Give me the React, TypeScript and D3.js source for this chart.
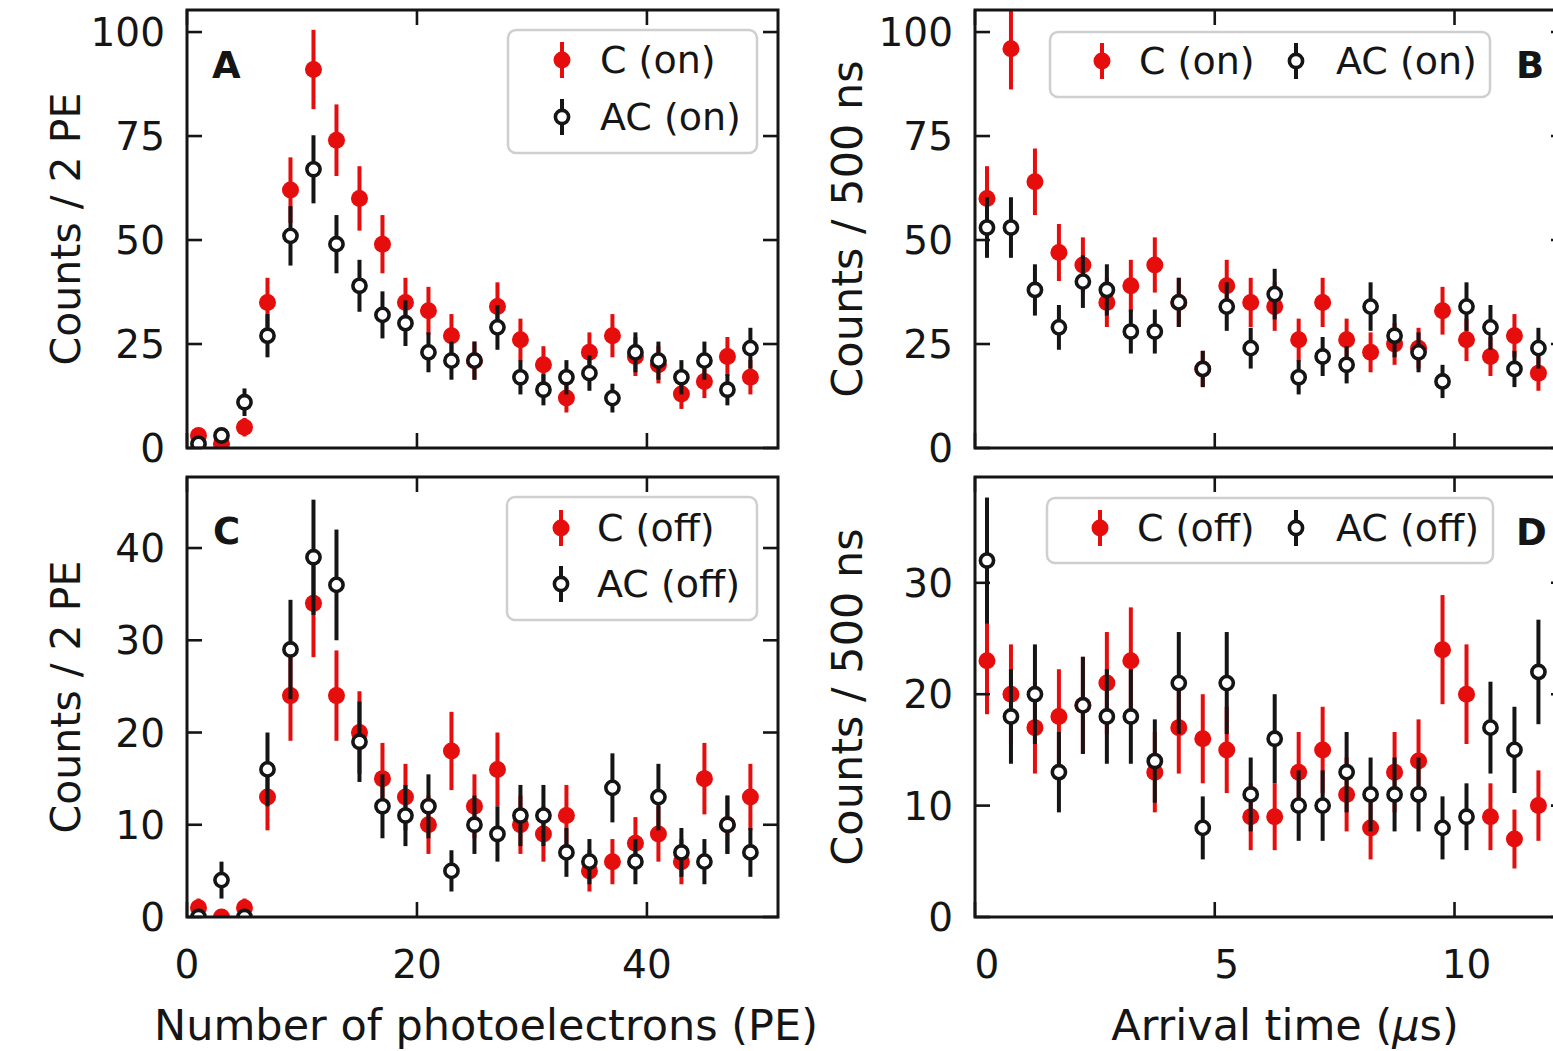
import React from "react";
import * as d3 from "d3";

// ---------- data ----------
const peBins = [1, 3, 5, 7, 9, 11, 13, 15, 17, 19, 21, 23, 25, 27, 29, 31, 33, 35, 37, 39, 41, 43, 45, 47, 49];
const peCOn = [3, 1, 5, 35, 62, 91, 74, 60, 49, 35, 33, 27, 21, 34, 26, 20, 12, 23, 27, 22, 20, 13, 16, 22, 17];
const peACOn = [1, 3, 11, 27, 51, 67, 49, 39, 32, 30, 23, 21, 21, 29, 17, 14, 17, 18, 12, 23, 21, 17, 21, 14, 24];
const peCOff = [1, 0, 1, 13, 24, 34, 24, 20, 15, 13, 10, 18, 12, 16, 10, 9, 11, 5, 6, 8, 9, 6, 15, 10, 13];
const peACOff = [0, 4, 0, 16, 29, 39, 36, 19, 12, 11, 12, 5, 10, 9, 11, 11, 7, 6, 14, 6, 13, 7, 6, 10, 7];

const timeBins = [0.25, 0.75, 1.25, 1.75, 2.25, 2.75, 3.25, 3.75, 4.25, 4.75, 5.25, 5.75, 6.25, 6.75, 7.25, 7.75, 8.25, 8.75, 9.25, 9.75, 10.25, 10.75, 11.25, 11.75];
const tCOn = [60, 96, 64, 47, 44, 35, 39, 44, 35, 19, 39, 35, 34, 26, 35, 26, 23, 25, 24, 33, 26, 22, 27, 18];
const tACOn = [53, 53, 38, 29, 40, 38, 28, 28, 35, 19, 34, 24, 37, 17, 22, 20, 34, 27, 23, 16, 34, 29, 19, 24];
const tCOff = [23, 20, 17, 18, 19, 21, 23, 13, 17, 16, 15, 9, 9, 13, 15, 11, 8, 13, 14, 24, 20, 9, 7, 10];
const tACOff = [32, 18, 20, 13, 19, 18, 18, 14, 21, 8, 21, 11, 16, 10, 10, 13, 11, 11, 11, 8, 9, 17, 15, 22];

const peTicks = [0, 20, 40];
const timeTicks = [0, 5, 10];
const countTicksOn = [0, 25, 50, 75, 100];
const countTicksPeOff = [0, 10, 20, 30, 40];
const countTicksTimeOff = [0, 10, 20, 30];

const peMax = 51.4;
const timeMax = 12.325;

// ---------- style ----------
const FONT = "'DejaVu Sans', Verdana, sans-serif";
const RED = "#e60d0d";
const INK = "#151515";

type LegendItem = { label: string; filled: boolean; hx: number; hy: number; tx: number };
type LegendCfg = { x: number; y: number; w: number; h: number; items: LegendItem[] };

type PanelProps = {
  id: string;
  left: number; top: number; width: number; height: number;
  xMax: number; yMax: number;
  xTicks: number[]; yTicks: number[];
  xs: number[]; red: number[]; black: number[];
  showXLabels: boolean; xLabelDx: number;
  ylabel: string; ylabelX: number; ylabelSize: number;
  letter: string; letterX: number; letterY: number;
  legend: LegendCfg;
};

function Marker({ cx, cy, filled }: { cx: number; cy: number; filled: boolean }) {
  return filled ? (
    <circle cx={cx} cy={cy} r={8.5} fill={RED} />
  ) : (
    <circle cx={cx} cy={cy} r={6.6} fill="#fff" stroke={INK} strokeWidth={3.6} />
  );
}

function Series({ xs, ys, x, y, filled }: any) {
  const col = filled ? RED : INK;
  return (
    <g>
      {xs.map((v: number, i: number) => {
        const e = Math.sqrt(ys[i]);
        return (
          <line key={"e" + i} x1={x(v)} x2={x(v)} y1={y(ys[i] - e)} y2={y(ys[i] + e)} stroke={col} strokeWidth={4} />
        );
      })}
      {xs.map((v: number, i: number) => (
        <Marker key={"m" + i} cx={x(v)} cy={y(ys[i])} filled={filled} />
      ))}
    </g>
  );
}

function Panel(p: PanelProps) {
  const x = d3.scaleLinear().domain([0, p.xMax]).range([p.left, p.left + p.width]);
  const y = d3.scaleLinear().domain([0, p.yMax]).range([p.top + p.height, p.top]);
  const bottom = p.top + p.height;
  const right = p.left + p.width;
  const TL = 15;
  const tw = 2.6;
  return (
    <g>
      <defs>
        <clipPath id={"clip-" + p.id}>
          <rect x={p.left} y={p.top} width={p.width} height={p.height} />
        </clipPath>
      </defs>
      <g clipPath={`url(#clip-${p.id})`}>
        <Series xs={p.xs} ys={p.red} x={x} y={y} filled={true} />
        <Series xs={p.xs} ys={p.black} x={x} y={y} filled={false} />
      </g>
      {p.xTicks.map((t) => (
        <g key={"xt" + t}>
          <line x1={x(t)} x2={x(t)} y1={bottom} y2={bottom - TL} stroke={INK} strokeWidth={tw} />
          <line x1={x(t)} x2={x(t)} y1={p.top} y2={p.top + TL} stroke={INK} strokeWidth={tw} />
          {p.showXLabels && (
            <text x={x(t) + p.xLabelDx} y={978} textAnchor="middle" fontSize={39} fill={INK} fontFamily={FONT}>
              {t}
            </text>
          )}
        </g>
      ))}
      {p.yTicks.map((t) => (
        <g key={"yt" + t}>
          <line x1={p.left} x2={p.left + TL} y1={y(t)} y2={y(t)} stroke={INK} strokeWidth={tw} />
          <line x1={right} x2={right - TL} y1={y(t)} y2={y(t)} stroke={INK} strokeWidth={tw} />
          <text x={p.left - 22} y={y(t)} dy="0.36em" textAnchor="end" fontSize={39} fill={INK} fontFamily={FONT}>
            {t}
          </text>
        </g>
      ))}
      <rect x={p.left} y={p.top} width={p.width} height={p.height} fill="none" stroke={INK} strokeWidth={3} />
      <text
        transform={`translate(${p.ylabelX},${p.top + p.height / 2}) rotate(-90)`}
        textAnchor="middle"
        fontSize={p.ylabelSize}
        fill={INK}
        fontFamily={FONT}
      >
        {p.ylabel}
      </text>
      <rect
        x={p.legend.x}
        y={p.legend.y}
        width={p.legend.w}
        height={p.legend.h}
        rx={8}
        fill="#fff"
        fillOpacity={0.85}
        stroke="#cfcfcf"
        strokeWidth={2.5}
      />
      {p.legend.items.map((it, i) => (
        <g key={"lg" + i}>
          <line
            x1={it.hx}
            x2={it.hx}
            y1={it.hy - 18}
            y2={it.hy + 18}
            stroke={it.filled ? RED : INK}
            strokeWidth={4}
          />
          <Marker cx={it.hx} cy={it.hy} filled={it.filled} />
          <text x={it.tx} y={it.hy + 13} fontSize={38} fill={INK} fontFamily={FONT}>
            {it.label}
          </text>
        </g>
      ))}
      <text x={p.letterX} y={p.letterY} fontSize={37} fontWeight="bold" fill={INK} fontFamily={FONT}>
        {p.letter}
      </text>
    </g>
  );
}

export default function App() {
  const W = 1553;
  const H = 1051;
  const lx = 187;
  const rx = 975;
  const pw = 591;
  const topY = 10;
  const topH = 438;
  const botY = 477;
  const botH = 440;
  return (
    <svg
      width={W}
      height={H}
      viewBox={`0 0 ${W} ${H}`}
      style={{ position: "absolute", left: 0, top: 0, background: "#fff" }}
    >
      <rect x={0} y={0} width={W} height={H} fill="#fff" />
      <Panel
        id="A" left={lx} top={topY} width={pw} height={topH}
        xMax={peMax} yMax={105.3} xTicks={peTicks} yTicks={countTicksOn}
        xs={peBins} red={peCOn} black={peACOn}
        showXLabels={false} xLabelDx={0}
        ylabel="Counts / 2 PE" ylabelX={80} ylabelSize={41}
        letter="A" letterX={212} letterY={78}
        legend={{
          x: 508, y: 30, w: 249, h: 123,
          items: [
            { label: "C (on)", filled: true, hx: 562, hy: 60, tx: 600 },
            { label: "AC (on)", filled: false, hx: 562, hy: 117, tx: 600 },
          ],
        }}
      />
      <Panel
        id="B" left={rx} top={topY} width={pw} height={topH}
        xMax={timeMax} yMax={105.3} xTicks={timeTicks} yTicks={countTicksOn}
        xs={timeBins} red={tCOn} black={tACOn}
        showXLabels={false} xLabelDx={12}
        ylabel="Counts / 500 ns" ylabelX={862} ylabelSize={43}
        letter="B" letterX={1516} letterY={78}
        legend={{
          x: 1050, y: 32, w: 440, h: 65,
          items: [
            { label: "C (on)", filled: true, hx: 1102, hy: 61, tx: 1139 },
            { label: "AC (on)", filled: false, hx: 1296, hy: 61, tx: 1336 },
          ],
        }}
      />
      <Panel
        id="C" left={lx} top={botY} width={pw} height={botH}
        xMax={peMax} yMax={47.7} xTicks={peTicks} yTicks={countTicksPeOff}
        xs={peBins} red={peCOff} black={peACOff}
        showXLabels={true} xLabelDx={0}
        ylabel="Counts / 2 PE" ylabelX={80} ylabelSize={41}
        letter="C" letterX={213} letterY={544}
        legend={{
          x: 507, y: 497, w: 250, h: 123,
          items: [
            { label: "C (off)", filled: true, hx: 561, hy: 528, tx: 597 },
            { label: "AC (off)", filled: false, hx: 561, hy: 584, tx: 597 },
          ],
        }}
      />
      <Panel
        id="D" left={rx} top={botY} width={pw} height={botH}
        xMax={timeMax} yMax={39.5} xTicks={timeTicks} yTicks={countTicksTimeOff}
        xs={timeBins} red={tCOff} black={tACOff}
        showXLabels={true} xLabelDx={12}
        ylabel="Counts / 500 ns" ylabelX={862} ylabelSize={43}
        letter="D" letterX={1516} letterY={545}
        legend={{
          x: 1047, y: 498, w: 446, h: 65,
          items: [
            { label: "C (off)", filled: true, hx: 1100, hy: 528, tx: 1137 },
            { label: "AC (off)", filled: false, hx: 1296, hy: 528, tx: 1336 },
          ],
        }}
      />
      <text x={486} y={1040} textAnchor="middle" fontSize={43} fill={INK} fontFamily={FONT}>
        Number of photoelectrons (PE)
      </text>
      <text x={1285} y={1040} textAnchor="middle" fontSize={43} fill={INK} fontFamily={FONT}>
        Arrival time (<tspan fontStyle="italic">μ</tspan>s)
      </text>
    </svg>
  );
}
